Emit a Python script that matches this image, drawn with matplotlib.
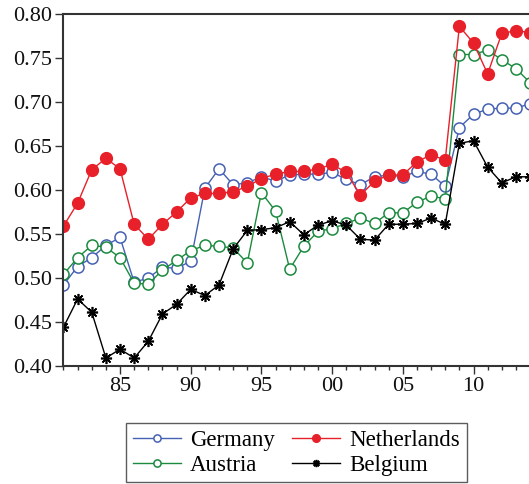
import matplotlib
matplotlib.use("Agg")
import matplotlib.pyplot as plt
from matplotlib.ticker import MultipleLocator, FixedLocator, FixedFormatter

plt.rcParams['font.family'] = ['Liberation Serif', 'DejaVu Serif']

years = list(range(1981, 2015))

germany = [0.492, 0.513, 0.523, 0.537, 0.546, 0.495, 0.500, 0.512, 0.511, 0.519,
           0.602, 0.624, 0.606, 0.608, 0.615, 0.610, 0.617, 0.618, 0.618, 0.620,
           0.612, 0.606, 0.615, 0.617, 0.615, 0.621, 0.618, 0.604, 0.671, 0.686,
           0.692, 0.693, 0.693, 0.698]
netherlands = [0.559, 0.585, 0.623, 0.636, 0.624, 0.561, 0.544, 0.561, 0.575, 0.591,
               0.596, 0.596, 0.598, 0.604, 0.613, 0.618, 0.621, 0.621, 0.624, 0.629,
               0.620, 0.594, 0.610, 0.617, 0.617, 0.632, 0.640, 0.634, 0.786, 0.767,
               0.732, 0.778, 0.781, 0.779]
austria = [0.504, 0.523, 0.537, 0.535, 0.523, 0.494, 0.493, 0.509, 0.520, 0.531,
           0.537, 0.536, 0.534, 0.517, 0.597, 0.576, 0.510, 0.536, 0.553, 0.556,
           0.562, 0.568, 0.562, 0.574, 0.574, 0.586, 0.593, 0.590, 0.754, 0.754,
           0.759, 0.748, 0.738, 0.722]
belgium = [0.444, 0.476, 0.461, 0.409, 0.419, 0.409, 0.428, 0.459, 0.470, 0.487,
           0.480, 0.492, 0.533, 0.554, 0.555, 0.557, 0.564, 0.549, 0.560, 0.565,
           0.560, 0.544, 0.543, 0.561, 0.561, 0.562, 0.568, 0.561, 0.653, 0.656,
           0.626, 0.608, 0.615, 0.615]

xtick_pos = [1985, 1990, 1995, 2000, 2005, 2010]
xtick_labels = ["85", "90", "95", "00", "05", "10"]
ytick_vals = [0.40, 0.45, 0.50, 0.55, 0.60, 0.65, 0.70, 0.75, 0.80]

fig = plt.figure(figsize=(5.29, 4.84), dpi=100)
ax = fig.add_axes([0.12, 0.244, 0.882, 0.727])

c_de = '#4561b3'
c_nl = '#e8202a'
c_at = '#1a8a3e'
c_be = '#000000'

ax.plot(years, germany, color=c_de, lw=1.0, marker='o', ms=8, mfc='white',
        mec=c_de, mew=1.1, label='Germany')
ax.plot(years, austria, color=c_at, lw=1.0, marker='o', ms=8, mfc='white',
        mec=c_at, mew=1.1, label='Austria')
ax.plot(years, belgium, color=c_be, lw=1.0, marker=(8, 2, 0), ms=8,
        mec=c_be, mew=1.2, label='Belgium')
ax.plot(years, netherlands, color=c_nl, lw=1.0, marker='o', ms=8.5, mfc=c_nl,
        mec=c_nl, label='Netherlands')

ax.set_xlim(1981, 2014)
ax.set_ylim(0.40, 0.80)
ax.xaxis.set_major_locator(FixedLocator(xtick_pos))
ax.xaxis.set_major_formatter(FixedFormatter(xtick_labels))
ax.xaxis.set_minor_locator(MultipleLocator(1))
ax.yaxis.set_major_locator(FixedLocator(ytick_vals))
ax.set_yticklabels([f"{v:.2f}" for v in ytick_vals])

ax.tick_params(axis='both', which='major', direction='out', length=6, width=1.0,
               labelsize=16, color='#333333', labelcolor='#111111', pad=2)
ax.tick_params(axis='x', which='minor', direction='out', length=3, width=1.0,
               color='#333333')
ax.spines['right'].set_visible(False)
for s in ['top', 'left', 'bottom']:
    ax.spines[s].set_linewidth(1.5)
    ax.spines[s].set_color('#333333')

h, l = ax.get_legend_handles_labels()
order = [0, 1, 3, 2]
h = [h[i] for i in order]
l = [l[i] for i in order]
leg = fig.legend(h, l, loc='center', bbox_to_anchor=(0.5605, 0.0645), ncol=2,
                 fontsize=16.5, frameon=True, fancybox=False, edgecolor='#333333',
                 handlelength=2.1, markerscale=0.65, columnspacing=0.75,
                 handletextpad=0.4, labelspacing=0.15, borderpad=0.3)
leg.get_frame().set_linewidth(1.0)

fig.savefig('out.png', dpi=100)
